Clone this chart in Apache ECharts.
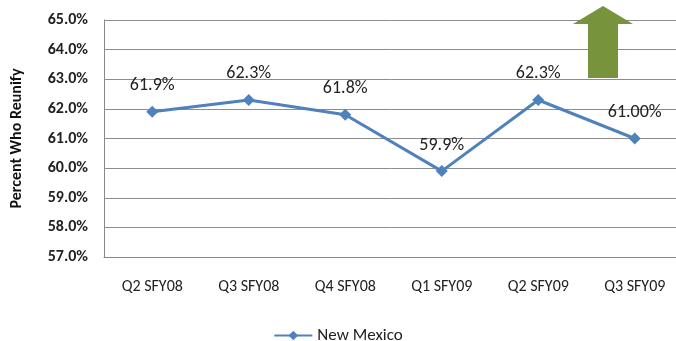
<!DOCTYPE html>
<html><head><meta charset="utf-8">
<script src="https://cdn.jsdelivr.net/npm/echarts@6/dist/echarts.min.js"></script>
<style>html,body{margin:0;padding:0;background:#fff}#c{width:676px;height:341px}</style>
</head><body><div id="c"></div>
<script>
const categories = ['Q2 SFY08','Q3 SFY08','Q4 SFY08','Q1 SFY09','Q2 SFY09','Q3 SFY09'];
const newMexico = [61.9, 62.3, 61.8, 59.9, 62.3, 61.0];
const labelTexts = ['61.9%','62.3%','61.8%','59.9%','62.3%','61.00%'];
const seriesName = 'New Mexico';
const yTitle = 'Percent Who Reunify';

const chart = echarts.init(document.getElementById('c'));
const font = "Carlito, 'Liberation Sans', Arial, sans-serif";
chart.setOption({
  animation: false,
  grid: {left: 104, width: 579, top: 20, height: 237, outerBoundsMode: 'none', containLabel: false},
  xAxis: {
    type: 'category', data: categories, boundaryGap: true,
    axisLine: {lineStyle: {color: '#888', width: 1}},
    axisTick: {show: false},
    axisLabel: {color: '#222', fontFamily: font, fontSize: 16, margin: 22}
  },
  yAxis: {
    type: 'value', min: 57, max: 65, interval: 1,
    name: yTitle, nameLocation: 'middle', nameGap: 79, nameRotate: 90,
    nameTextStyle: {color: '#111', fontFamily: font, fontSize: 16, fontWeight: 'bold'},
    axisLine: {show: true, lineStyle: {color: '#888'}},
    axisTick: {show: false},
    splitLine: {lineStyle: {color: '#8c8c8c', width: 1}},
    axisLabel: {color: '#222', fontFamily: font, fontSize: 16, fontWeight: 'bold', margin: 16,
      formatter: v => v.toFixed(1) + '%'}
  },
  legend: {
    top: 322, left: 'center', itemWidth: 38, itemHeight: 12, itemGap: 4,
    textStyle: {color: '#222', fontFamily: font, fontSize: 17},
    data: [seriesName]
  },
  series: [{
    name: seriesName, type: 'line', data: newMexico,
    symbol: 'diamond', symbolSize: 12,
    lineStyle: {color: '#4F81BD', width: 3},
    itemStyle: {color: '#4F81BD'},
    label: {show: true, position: 'top', distance: 11, color: '#222', fontFamily: font, fontSize: 18,
      formatter: p => labelTexts[p.dataIndex]}
  }],
  graphic: [{
    type: 'polygon', z: 10,
    shape: {points: [[603,6],[633,24],[618,24],[618,78],[588,78],[588,24],[573,24]]},
    style: {fill: '#77933C'}
  }]
});
</script></body></html>
